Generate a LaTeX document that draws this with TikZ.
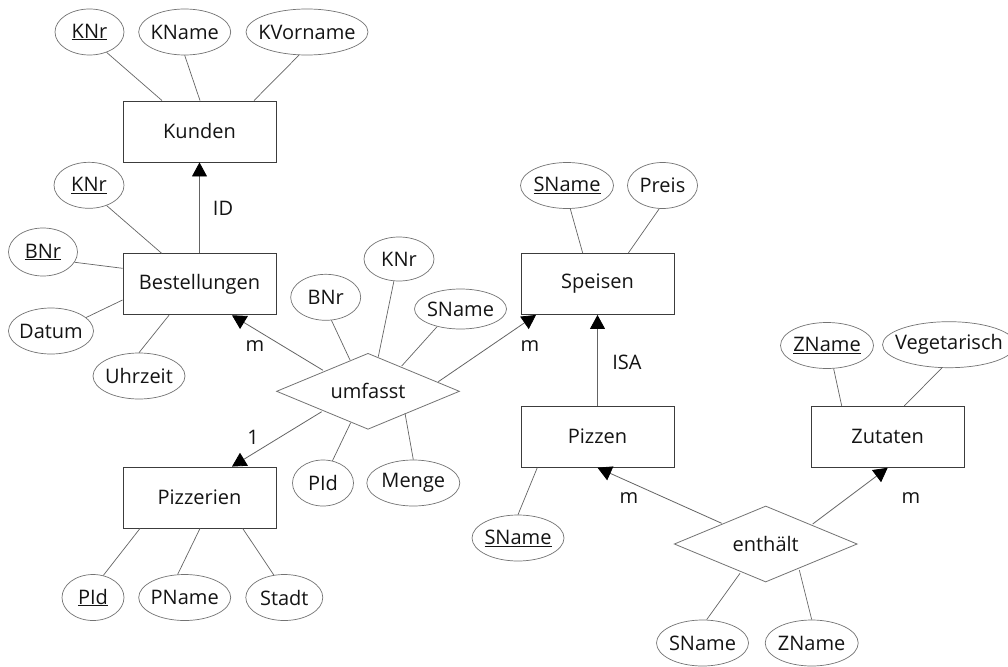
\documentclass[tikz,border=0pt]{standalone}
\usepackage{fontspec}
\setmainfont{Open Sans}
\usetikzlibrary{shapes.geometric,arrows.meta}
\definecolor{edgegray}{RGB}{100,100,100}
\definecolor{boxgray}{RGB}{60,60,60}
\definecolor{ovalgray}{RGB}{115,115,115}
\definecolor{inkc}{RGB}{20,20,20}
% zero-width text box so ellipse sizes are set by the style alone
\newcommand{\zw}[1]{\makebox[0pt]{#1}}
\begin{document}
\begin{tikzpicture}[x=1pt,y=-1pt,
  every node/.style={font=\fontsize{20}{24}\selectfont, text=inkc},
  entity/.style={draw=boxgray, line width=0.9pt, minimum width=153pt, minimum height=61pt, inner sep=0pt},
  attr/.style={ellipse, draw=ovalgray, line width=0.7pt, minimum width=#1, minimum height=46pt, inner sep=0pt},
  attr/.default=70pt,
  relship/.style={diamond, aspect=2.4, draw=ovalgray, line width=0.8pt, minimum width=183pt, minimum height=76pt, inner sep=0pt},
  link/.style={draw=edgegray, line width=0.7pt},
  relarrow/.style={draw=edgegray, line width=0.8pt, -{Triangle[length=14pt,width=15pt,color=black]}}
]
\clip (0,0) rectangle (1008,666);
\fill[white] (0,0) rectangle (1008,666);

% entities
\node[entity] (kunden)    at (199.5,131.5) {Kunden};
\node[entity] (best)      at (199.5,284.3) {Bestellungen};
\node[entity] (pizzerien) at (199.5,497.5) {Pizzerien};
\node[entity] (speisen)   at (597.5,284)   {Speisen};
\node[entity] (pizzen)    at (597.5,436.7) {Pizzen};
\node[entity] (zutaten)   at (887.7,436.8) {Zutaten};

% relationships
\node[relship] (umfasst)  at (368,391.3) {umfasst};
\node[relship] (enthaelt) at (765.7,544) {enthält};

% attributes
\node[attr=69pt]  (knrA)     at (89.5,32)   {\zw{\underline{KNr}}};
\node[attr=92pt]  (kname)    at (184.7,32)  {\zw{KName}};
\node[attr=122pt] (kvorname) at (307,32)    {\zw{KVorname}};
\node[attr=70pt]  (knrB)     at (89,185.3)  {\zw{\underline{KNr}}};
\node[attr=69pt, minimum height=48pt] (bnrA) at (43,252) {\zw{\underline{BNr}}};
\node[attr=85pt]  (datum)    at (51,331)    {\zw{Datum}};
\node[attr=92pt]  (uhrzeit)  at (139,376)   {\zw{Uhrzeit}};
\node[attr=70pt]  (bnrB)     at (325.7,297.3) {\zw{BNr}};
\node[attr=70pt, minimum height=44pt] (knrC) at (399,259) {\zw{KNr}};
\node[attr=92pt, minimum height=40pt] (snameA) at (460.5,309) {\zw{SName}};
\node[attr=61pt]  (pidA)     at (323,483)   {\zw{PId}};
\node[attr=93pt]  (menge)    at (413.3,483) {\zw{Menge}};
\node[attr=93pt]  (snameB)   at (567,185.5) {\zw{\underline{SName}}};
\node[attr=70pt]  (preis)    at (662.5,185.5) {\zw{Preis}};
\node[attr=93pt]  (znameA)   at (827,345.5) {\zw{\underline{ZName}}};
\node[attr=133pt] (veg)      at (949,344.7) {\zw{Vegetarisch}};
\node[attr=92pt]  (snameC)   at (518,538)   {\zw{\underline{SName}}};
\node[attr=92pt]  (snameD)   at (702.5,643) {\zw{SName}};
\node[attr=93pt]  (znameB)   at (811.7,643) {\zw{ZName}};
\node[attr=62pt]  (pidB)     at (93,597.5)  {\zw{\underline{PId}}};
\node[attr=92pt]  (pname)    at (184.7,597.5) {\zw{PName}};
\node[attr=77pt]  (stadt)    at (284.3,597.5) {\zw{Stadt}};

% attribute links
\draw[link] (knrA.-50) -- ([shift={(-37.5,0)}]kunden.north);
\draw[link] (kname.south) -- ([shift={(0.5,0)}]kunden.north);
\draw[link] (kvorname.-109) -- ([shift={(54.5,0)}]kunden.north);
\draw[link] (knrB.-49) -- ([shift={(-37.8,0)}]best.north);
\draw[link] (bnrA.-18) -- ([shift={(0,-16)}]best.west);
\draw[link] (datum.21) -- ([shift={(0,15.7)}]best.west);
\draw[link] (uhrzeit.north) -- ([shift={(-30.5,0)}]best.south);
\draw[link] (bnrB.-76) -- ([shift={(-18,-31.3)}]umfasst.center);
\draw[link] (knrC.-103) -- ([shift={(10.3,-34.6)}]umfasst.center);
\draw[link] (snameA.-143) -- ([shift={(33.7,-25.3)}]umfasst.center);
\draw[link] (pidA.67) -- ([shift={(-17.3,31.4)}]umfasst.center);
\draw[link] (menge.north) -- ([shift={(37,22)}]umfasst.center);
\draw[link] (snameB.-82) -- ([shift={(-14.8,0)}]speisen.north);
\draw[link] (preis.-98) -- ([shift={(30.8,0)}]speisen.north);
\draw[link] (znameA.-74) -- ([shift={(-46,0)}]zutaten.north);
\draw[link] (veg.-107) -- ([shift={(16.6,0)}]zutaten.north);
\draw[link] (snameC.north) -- ([shift={(-60.2,0)}]pizzen.south);
\draw[link] (snameD.80) -- ([shift={(-25.7,29.3)}]enthaelt.center);
\draw[link] (znameB.north) -- ([shift={(33.6,26)}]enthaelt.center);
\draw[link] (pidB.65) -- ([shift={(-59.5,0)}]pizzerien.south);
\draw[link] (pname.107) -- ([shift={(0.5,0)}]pizzerien.south);
\draw[link] (stadt.115) -- ([shift={(43.2,0)}]pizzerien.south);

% relationship and ISA/ID arrows
\draw[relarrow] (best.north) -- (kunden.south);
\draw[relarrow] (pizzen.north) -- (speisen.south);
\draw[relarrow] ([shift={(-45,-21)}]umfasst.center) -- ([shift={(32.5,0)}]best.south);
\draw[relarrow] ([shift={(70.3,-9.6)}]umfasst.center) -- ([shift={(-61.5,0)}]speisen.south);
\draw[relarrow] ([shift={(-46.3,20.4)}]umfasst.center) -- ([shift={(32.5,0)}]pizzerien.north);
\draw[relarrow] ([shift={(-44,-20.7)}]enthaelt.center) -- (pizzen.south);
\draw[relarrow] ([shift={(47,-20)}]enthaelt.center) -- (zutaten.south);

% cardinality and arrow labels
\node (lblid)  at (223,208) {ID};
\node (lblisa) at (627,362) {ISA};
\node (lblmb)  at (255,346) {m};
\node (lblms)  at (530,346) {m};
\node (lblone) at (253,437) {1};
\node (lblmp)  at (629,498) {m};
\node (lblmz)  at (911,498) {m};
\end{tikzpicture}
\end{document}
